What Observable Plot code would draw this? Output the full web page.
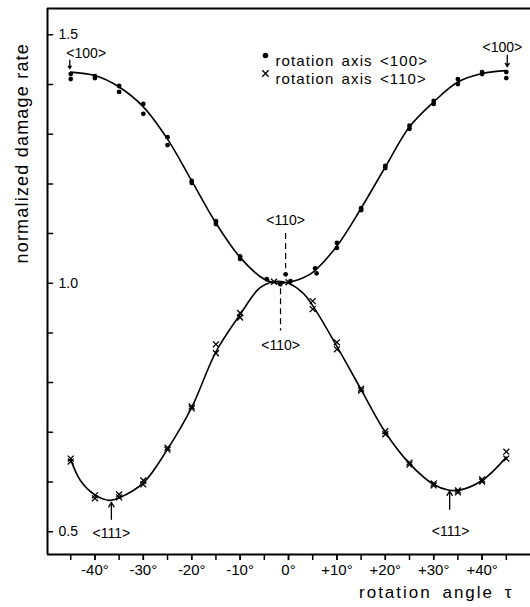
<!DOCTYPE html>
<html><head><meta charset="utf-8">
<script src="https://cdn.jsdelivr.net/npm/d3@7"></script>
<script src="https://cdn.jsdelivr.net/npm/@observablehq/plot@0.6"></script>
<style>body{margin:0;background:#fff} #chart svg{display:block}</style>
</head><body><div id="chart"></div>
<script>
// ---- scales / ticks ----
const xDomain = [-49.8, 50];
const yDomain = [0.454, 1.553];
const xTicks = [-45, -40, -35, -30, -25, -20, -15, -10, -5, 0, 5, 10, 15, 20, 25, 30, 35, 40, 45];
const xTickLabels = [-40, -30, -20, -10, 0, 10, 20, 30, 40];
const yTicks = [0.5, 0.6, 0.7, 0.8, 0.9, 1.0, 1.1, 1.2, 1.3, 1.4, 1.5];
const yTickLabels = [0.5, 1.0, 1.5];
const yTickText = ["0.5", "1.0", "1.5"];

// ---- measured points: rotation axis <100> (dots) ----
const dots100X = [-45, -45, -40, -40, -35, -35, -30, -30, -25, -25, -20, -20, -15, -15, -10, -10, -4.5, -1.7, -0.6, 0.4, 5.5, 5.8, 10, 10, 15, 15, 20, 20, 25, 25, 30, 30, 35, 35, 40, 40, 45, 45];
const dots100Y = [1.421, 1.411, 1.417, 1.413, 1.397, 1.385, 1.361, 1.341, 1.294, 1.278, 1.206, 1.202, 1.125, 1.119, 1.054, 1.049, 1.008, 0.998, 1.018, 1.004, 1.030, 1.020, 1.081, 1.071, 1.151, 1.147, 1.236, 1.232, 1.317, 1.311, 1.367, 1.361, 1.411, 1.401, 1.425, 1.421, 1.425, 1.413];

// ---- measured points: rotation axis <110> (crosses) ----
const cross110X = [-45, -45, -40, -40, -35, -35, -30, -30, -25, -25, -20, -20, -15, -15, -10, -10, -3, 0, 5, 5, 10, 10, 15, 15, 20, 20, 25, 25, 30, 30, 35, 35, 40, 40, 45, 45];
const cross110Y = [0.647, 0.641, 0.573, 0.567, 0.575, 0.569, 0.603, 0.595, 0.669, 0.665, 0.752, 0.748, 0.877, 0.859, 0.940, 0.931, 1.003, 1.002, 0.964, 0.948, 0.881, 0.867, 0.788, 0.784, 0.702, 0.696, 0.639, 0.635, 0.597, 0.593, 0.583, 0.579, 0.605, 0.601, 0.661, 0.647];

// ---- fitted curves ----
const curve100X = [-45, -40, -35, -30, -25, -20, -15, -10, -5, -2, 0, 2, 5, 10, 15, 20, 25, 30, 35, 40, 45];
const curve100Y = [1.425, 1.418, 1.395, 1.355, 1.290, 1.206, 1.121, 1.052, 1.008, 1.000, 1.002, 1.007, 1.022, 1.075, 1.151, 1.234, 1.315, 1.365, 1.405, 1.422, 1.428];
const curve110X = [-45, -43, -40, -37, -35, -30, -25, -20, -15, -10, -6, -3, 0, 3, 5, 10, 15, 20, 25, 30, 33, 35, 40, 45];
const curve110Y = [0.645, 0.603, 0.574, 0.563, 0.568, 0.598, 0.666, 0.750, 0.862, 0.937, 0.990, 1.003, 1.000, 0.980, 0.955, 0.873, 0.786, 0.700, 0.637, 0.595, 0.584, 0.583, 0.603, 0.650];

// ---- annotations ----
const annLabels = ["<100>", "<100>", "<110>", "<110>", "<111>", "<111>"];
const annX = [-41.8, 44.2, -0.6, -1.65, -36.6, 33.5];
const annY = [1.463, 1.475, 1.126, 0.874, 0.497, 0.501];
const arrowX = [-45.2, 45.2, -36.6, 33.3];
const arrowY1 = [1.449, 1.459, 0.525, 0.545];
const arrowY2 = [1.432, 1.436, 0.559, 0.582];
const dashX = [-0.6, -1.65];
const dashY1 = [1.100, 0.989];
const dashY2 = [1.029, 0.904];

const legendLabels = ["rotation axis <100>", "rotation axis <110>"];
const yTitle = "normalized damage rate";
const xTitle = "rotation angle τ";

const fmtDeg = d => d === 0 ? "0°" : (d > 0 ? "+" : "-") + Math.abs(d) + "°";
const tickShape = {draw(context, l) { context.moveTo(0, 0); context.lineTo(0, -l); }};

const dots = dots100X.map((x, i) => ({x, y: dots100Y[i]}));
const crosses = cross110X.map((x, i) => ({x, y: cross110Y[i]}));
const c100 = curve100X.map((x, i) => ({x, y: curve100Y[i]}));
const c110 = curve110X.map((x, i) => ({x, y: curve110Y[i]}));
const anns = annLabels.map((t, i) => ({t, x: annX[i], y: annY[i]}));
const arrows = arrowX.map((x, i) => ({x, y1: arrowY1[i], y2: arrowY2[i]}));
const dashes = dashX.map((x, i) => ({x, y1: dashY1[i], y2: dashY2[i]}));

const svg = Plot.plot({
  width: 530, height: 607,
  marginLeft: 47, marginRight: 0, marginTop: 8, marginBottom: 53,
  style: {fontFamily: "'Liberation Sans', Arial, sans-serif", fontSize: "14px", color: "black", background: "white"},
  x: {domain: xDomain, axis: null},
  y: {domain: yDomain, axis: null},
  marks: [
    // frame lines (left, top, bottom)
    Plot.ruleX([xDomain[0]], {strokeWidth: 2}),
    Plot.ruleY([yDomain[0], yDomain[1]], {strokeWidth: 2}),
    // x axis ticks + labels
    Plot.axisX(xTicks, {anchor: "bottom", label: null, tickSize: 6, tickFormat: () => "", strokeWidth: 1.5}),
    Plot.axisX(xTickLabels, {anchor: "bottom", label: null, tickSize: 6, tickPadding: 4, tickFormat: fmtDeg, fontSize: 15, strokeWidth: 1.5}),
    // y ticks inside
    Plot.vector(yTicks, {y: d => d, frameAnchor: "left", length: 5, rotate: 90, anchor: "start", shape: tickShape, stroke: "black", strokeWidth: 1.5}),
    Plot.text(yTickLabels, {y: d => d, text: (d, i) => yTickText[i], frameAnchor: "left", dx: 11, textAnchor: "start", fontSize: 14}),
    // curves
    Plot.line(c100, {x: "x", y: "y", curve: "catmull-rom", strokeWidth: 1.6, stroke: "black"}),
    Plot.line(c110, {x: "x", y: "y", curve: "catmull-rom", strokeWidth: 1.6, stroke: "black"}),
    // data
    Plot.dot(dots, {x: "x", y: "y", r: 2.4, fill: "black", stroke: null}),
    Plot.dot(crosses, {x: "x", y: "y", symbol: "times", r: 2.8, stroke: "black", strokeWidth: 1.3}),
    // annotations
    Plot.text(anns, {x: "x", y: "y", text: "t", fontSize: 14}),
    Plot.arrow(arrows, {x: "x", y1: "y1", y2: "y2", headLength: 6, strokeWidth: 1.3, stroke: "black"}),
    Plot.ruleX(dashes, {x: "x", y1: "y1", y2: "y2", strokeDasharray: "6,4", strokeWidth: 1.2}),
    // legend
    Plot.dot([legendLabels[0]], {frameAnchor: "top-left", dx: 218, dy: 47, r: 2.8, fill: "black", stroke: null}),
    Plot.dot([legendLabels[1]], {frameAnchor: "top-left", dx: 218, dy: 65, symbol: "times", r: 3, stroke: "black", strokeWidth: 1.3}),
    Plot.text([legendLabels[0]], {text: d => d, frameAnchor: "top-left", dx: 228, dy: 47, textAnchor: "start", fontSize: 15}),
    Plot.text([legendLabels[1]], {text: d => d, frameAnchor: "top-left", dx: 228, dy: 65, textAnchor: "start", fontSize: 15}),
    // axis titles
    Plot.text([yTitle], {text: d => d, frameAnchor: "left", dx: -25, dy: -18, rotate: -90, fontSize: 18}),
    Plot.text([xTitle], {text: d => d, frameAnchor: "bottom-right", dx: -17, dy: 43, textAnchor: "end", fontSize: 17})
  ]
});

d3.select(svg).selectAll("text").each(function() {
  const t = this.textContent;
  if (t === yTitle) this.setAttribute("letter-spacing", "1.2");
  else if (t === xTitle) { this.setAttribute("letter-spacing", "2"); this.setAttribute("word-spacing", "4"); }
  else if (legendLabels.includes(t)) { this.setAttribute("letter-spacing", "1.1"); this.setAttribute("word-spacing", "2"); }
});
document.getElementById("chart").appendChild(svg);
</script>
</body></html>
